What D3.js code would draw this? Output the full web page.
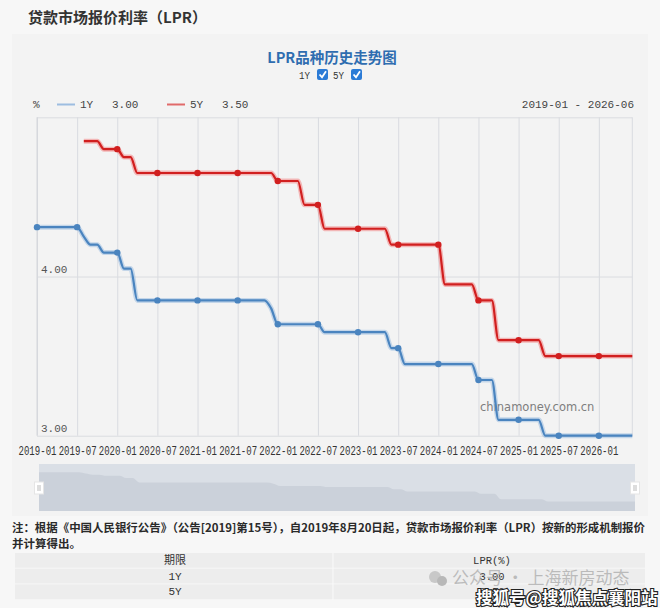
<!DOCTYPE html>
<html><head><meta charset="utf-8">
<script src="https://cdn.jsdelivr.net/npm/d3@7/dist/d3.min.js"></script>
<style>
body{margin:0;background:#f7f7f7;}
svg{display:block;}
</style>
</head><body>
<svg id="c" width="660" height="608"></svg>
<script>
// ---------- data ----------
const months = [
 "2019-01","2019-02","2019-03","2019-04","2019-05","2019-06","2019-07","2019-08","2019-09","2019-10","2019-11","2019-12",
 "2020-01","2020-02","2020-03","2020-04","2020-05","2020-06","2020-07","2020-08","2020-09","2020-10","2020-11","2020-12",
 "2021-01","2021-02","2021-03","2021-04","2021-05","2021-06","2021-07","2021-08","2021-09","2021-10","2021-11","2021-12",
 "2022-01","2022-02","2022-03","2022-04","2022-05","2022-06","2022-07","2022-08","2022-09","2022-10","2022-11","2022-12",
 "2023-01","2023-02","2023-03","2023-04","2023-05","2023-06","2023-07","2023-08","2023-09","2023-10","2023-11","2023-12",
 "2024-01","2024-02","2024-03","2024-04","2024-05","2024-06","2024-07","2024-08","2024-09","2024-10","2024-11","2024-12",
 "2025-01","2025-02","2025-03","2025-04","2025-05","2025-06","2025-07","2025-08","2025-09","2025-10","2025-11","2025-12",
 "2026-01","2026-02","2026-03","2026-04","2026-05","2026-06"
];
const rate1Y = [
 4.31,4.31,4.31,4.31,4.31,4.31,4.31,4.25,4.20,4.20,4.15,4.15,
 4.15,4.05,4.05,3.85,3.85,3.85,3.85,3.85,3.85,3.85,3.85,3.85,
 3.85,3.85,3.85,3.85,3.85,3.85,3.85,3.85,3.85,3.85,3.85,3.80,
 3.70,3.70,3.70,3.70,3.70,3.70,3.70,3.65,3.65,3.65,3.65,3.65,
 3.65,3.65,3.65,3.65,3.65,3.55,3.55,3.45,3.45,3.45,3.45,3.45,
 3.45,3.45,3.45,3.45,3.45,3.45,3.35,3.35,3.35,3.10,3.10,3.10,
 3.10,3.10,3.10,3.10,3.00,3.00,3.00,3.00,3.00,3.00,3.00,3.00,
 3.00,3.00,3.00,3.00,3.00,3.00
];
const rate5Y = [
 null,null,null,null,null,null,null,4.85,4.85,4.85,4.80,4.80,
 4.80,4.75,4.75,4.65,4.65,4.65,4.65,4.65,4.65,4.65,4.65,4.65,
 4.65,4.65,4.65,4.65,4.65,4.65,4.65,4.65,4.65,4.65,4.65,4.65,
 4.60,4.60,4.60,4.60,4.45,4.45,4.45,4.30,4.30,4.30,4.30,4.30,
 4.30,4.30,4.30,4.30,4.30,4.20,4.20,4.20,4.20,4.20,4.20,4.20,
 4.20,3.95,3.95,3.95,3.95,3.95,3.85,3.85,3.85,3.60,3.60,3.60,
 3.60,3.60,3.60,3.60,3.50,3.50,3.50,3.50,3.50,3.50,3.50,3.50,
 3.50,3.50,3.50,3.50,3.50,3.50
];
const xTickLabels = ["2019-01","2019-07","2020-01","2020-07","2021-01","2021-07","2022-01","2022-07",
 "2023-01","2023-07","2024-01","2024-07","2025-01","2025-07","2026-01"];
const yGridValues = [3, 4, 5];
const yTickLabels = ["3.00","4.00"];
const seriesNames = ["1Y","5Y"];
const latestValues = ["3.00","3.50"];
const dateRangeText = "2019-01 - 2026-06";
const pageTitle = "贷款市场报价利率（LPR）";
const chartTitle = "LPR品种历史走势图";
const noteLines = ["注：根据《中国人民银行公告》（公告[2019]第15号），自2019年8月20日起，贷款市场报价利率（LPR）按新的形成机制报价","并计算得出。"];
const tableHeader = ["期限","LPR(%)"];
const tableTerms = ["1Y","5Y"];
const tableValues = ["3.00","3.50"];

// ---------- setup ----------
const svg = d3.select("#c");
const colors = ["#4a84bf","#d11f1f"];
const halo = ["rgba(110,160,215,0.35)","rgba(240,70,70,0.35)"];
const monoFont = "'Liberation Mono','DejaVu Sans Mono',monospace";
const cjk = "'Noto Sans CJK SC','Noto Sans',sans-serif";

svg.append("rect").attr("width",660).attr("height",608).attr("fill","#f7f7f7");
svg.append("rect").attr("x",12).attr("y",34).attr("width",636).attr("height",482).attr("fill","#f3f3f3");

svg.append("text").attr("x",28).attr("y",23).text(pageTitle)
  .attr("font-family",cjk).attr("font-size",15).attr("font-weight","bold").attr("fill","#333");

svg.append("text").attr("x",332).attr("y",63).attr("text-anchor","middle").text(chartTitle)
  .attr("font-family",cjk).attr("font-size",14.5).attr("font-weight","bold").attr("fill","#2f6db0");

// checkbox legend
const cbX = [299, 333];
seriesNames.forEach((s,i)=>{
  const g = svg.append("g").attr("transform",`translate(${cbX[i]},0)`);
  g.append("text").attr("x",0).attr("y",79).text(s).attr("font-family",monoFont).attr("font-size",11).attr("fill","#333")
    .attr("textLength",11).attr("lengthAdjust","spacingAndGlyphs");
  g.append("rect").attr("x",18).attr("y",69).attr("width",11).attr("height",11).attr("rx",2).attr("fill","#2b7bd6");
  g.append("path").attr("d","M20.5,74.5 L23,77.2 L27,71.3").attr("fill","none").attr("stroke","#fff").attr("stroke-width",1.8);
});

// top legend row
svg.append("text").attr("x",33).attr("y",108).text("%").attr("font-family",monoFont).attr("font-size",11).attr("fill","#444");
const legX = [57, 167];
seriesNames.forEach((s,i)=>{
  const g = svg.append("g").attr("transform",`translate(${legX[i]},0)`);
  g.append("line").attr("x1",0).attr("x2",18).attr("y1",104.5).attr("y2",104.5)
    .attr("stroke", i===0 ? "#9dbde0" : "#e06a6a").attr("stroke-width",2);
  g.append("text").attr("x",23).attr("y",108).text(s).attr("font-family",monoFont).attr("font-size",11).attr("fill","#444");
  g.append("text").attr("x",55).attr("y",108).text(latestValues[i]).attr("font-family",monoFont).attr("font-size",11).attr("fill","#444");
});
svg.append("text").attr("x",634).attr("y",108).attr("text-anchor","end").text(dateRangeText)
  .attr("font-family",monoFont).attr("font-size",11).attr("fill","#444");

// ---------- scales ----------
const plot = {l:37, r:632.3, t:117.3, b:435.7};
const x = d3.scalePoint().domain(months).range([plot.l, plot.r]);
const y = d3.scaleLinear().domain([3,5]).range([plot.b, plot.t]);

// grid
const gx = svg.append("g").attr("transform",`translate(0,${plot.b})`)
  .call(d3.axisBottom(x).tickValues(xTickLabels).tickSize(-(plot.b-plot.t)).tickFormat(""));
gx.select(".domain").remove();
gx.selectAll("line").attr("stroke","#d9dbe0").attr("stroke-width",1);
const gy = svg.append("g").attr("transform",`translate(${plot.l},0)`)
  .call(d3.axisLeft(y).tickValues(yGridValues).tickSize(-(plot.r-plot.l)).tickFormat(""));
gy.select(".domain").remove();
gy.selectAll("line").attr("stroke","#dadce0").attr("stroke-width",1);
svg.append("line").attr("x1",plot.r).attr("x2",plot.r).attr("y1",plot.t).attr("y2",plot.b).attr("stroke","#d9dbe0");
svg.append("line").attr("x1",plot.l).attr("x2",plot.l).attr("y1",plot.t).attr("y2",plot.b).attr("stroke","#d4d6da");

// y labels (inside)
[3,4].forEach((v,i)=>{
  svg.append("text").attr("x",plot.l+4).attr("y",y(v)-4).text(yTickLabels[i])
    .attr("font-family",monoFont).attr("font-size",11).attr("fill","#555");
});

// watermark
svg.append("text").attr("x",480).attr("y",411).text("chinamoney.com.cn")
  .attr("font-family","'DejaVu Sans',sans-serif").attr("font-size",11.5).attr("fill","#7e7e7e");

// lines
const seriesData = [rate1Y, rate5Y];
const line = d3.line().defined(d=>d!=null).x((d,i)=>x(months[i])).y(d=>y(d)).curve(d3.curveMonotoneX);
seriesData.forEach((arr,k)=>{
  svg.append("path").attr("d",line(arr)).attr("fill","none").attr("stroke",halo[k]).attr("stroke-width",5).attr("stroke-linejoin","round");
  svg.append("path").attr("d",line(arr)).attr("fill","none").attr("stroke",colors[k]).attr("stroke-width",2.2).attr("stroke-linejoin","round");
});
// dots
seriesData.forEach((arr,k)=>{
  const pts = months.map((m,i)=>({m,v:arr[i]})).filter(p=>p.v!=null && xTickLabels.includes(p.m));
  svg.append("g").selectAll("circle").data(pts).join("circle")
    .attr("cx",p=>x(p.m)).attr("cy",p=>y(p.v)).attr("r",3.2).attr("fill",colors[k]);
});

// x axis labels
const ax = svg.append("g").attr("transform",`translate(0,${plot.b})`)
  .call(d3.axisBottom(x).tickValues(xTickLabels).tickSize(0).tickPadding(11));
ax.select(".domain").remove();
ax.selectAll("text").attr("font-family",monoFont).attr("font-size",12).attr("fill","#333")
  .attr("textLength",38).attr("lengthAdjust","spacingAndGlyphs");

// ---------- data zoom slider ----------
const sl = {l:39, r:635, t:464, b:511};
svg.append("rect").attr("x",sl.l).attr("y",sl.t).attr("width",sl.r-sl.l).attr("height",sl.b-sl.t).attr("fill","#dadfe6");
const xs = d3.scalePoint().domain(months).range([sl.l, sl.r]);
const ys = d3.scaleLinear().domain([2.58,4.68]).range([sl.b, sl.t]);
const area = d3.area().x((d,i)=>xs(months[i])).y0(sl.b).y1(d=>ys(d)).curve(d3.curveMonotoneX);
svg.append("path").attr("d",area(rate1Y)).attr("fill","#cbd1da");
[sl.l, sl.r].forEach(hx=>{
  svg.append("rect").attr("x",hx-4.5).attr("y",482).attr("width",9).attr("height",12).attr("fill","#fff").attr("stroke","#e5e5e5");
  svg.append("line").attr("x1",hx-1).attr("x2",hx-1).attr("y1",485).attr("y2",491).attr("stroke","#bbb");
  svg.append("line").attr("x1",hx+1).attr("x2",hx+1).attr("y1",485).attr("y2",491).attr("stroke","#bbb");
});

// ---------- note ----------
noteLines.forEach((t,i)=>{
  svg.append("text").attr("x",12).attr("y",532+i*16).text(t)
    .attr("font-family",cjk).attr("font-size",11.5).attr("font-weight","bold").attr("fill","#2a2a2a")
    .attr("textLength", i===0 ? 633 : null).attr("lengthAdjust","spacingAndGlyphs");
});

// ---------- table ----------
const tb = {l:15, r:645, mid:333, t:553, rh:15.7};
const rows = [tableHeader, ...tableTerms.map((t,i)=>[t, tableValues[i]])];
rows.forEach((r,i)=>{
  const ry = tb.t + i*tb.rh;
  svg.append("rect").attr("x",tb.l).attr("y",ry).attr("width",tb.r-tb.l).attr("height",tb.rh-1).attr("fill","#ededed");
  svg.append("text").attr("x",(tb.l+tb.mid)/2+1).attr("y",ry+11).attr("text-anchor","middle").text(r[0])
    .attr("font-family", i===0 ? cjk : monoFont).attr("font-size",11).attr("fill","#333");
  svg.append("text").attr("x",(tb.mid+tb.r)/2+3).attr("y",ry+11).attr("text-anchor","middle").text(r[1])
    .attr("font-family",monoFont).attr("font-size",10.5).attr("fill","#333");
});
svg.append("line").attr("x1",tb.mid).attr("x2",tb.mid).attr("y1",tb.t).attr("y2",tb.t+3*tb.rh).attr("stroke","#fafafa");

// ---------- overlay watermarks ----------
const wm = svg.append("g");
wm.append("circle").attr("cx",435).attr("cy",577).attr("r",6).attr("fill","#c8c8c8");
wm.append("circle").attr("cx",442).attr("cy",581).attr("r",5).attr("fill","#b8b8b8");
wm.append("text").attr("x",452).attr("y",584).text("公众号 · 上海新房动态")
  .attr("font-family",cjk).attr("font-size",17).attr("fill","rgba(170,170,170,0.75)");
wm.append("text").attr("x",476).attr("y",604).text("搜狐号@搜狐焦点襄阳站")
  .attr("font-family",cjk).attr("font-size",16.5).attr("font-weight","bold")
  .attr("fill","#fff").attr("stroke","#222").attr("stroke-width",2.2).attr("paint-order","stroke");
</script>
</body></html>
